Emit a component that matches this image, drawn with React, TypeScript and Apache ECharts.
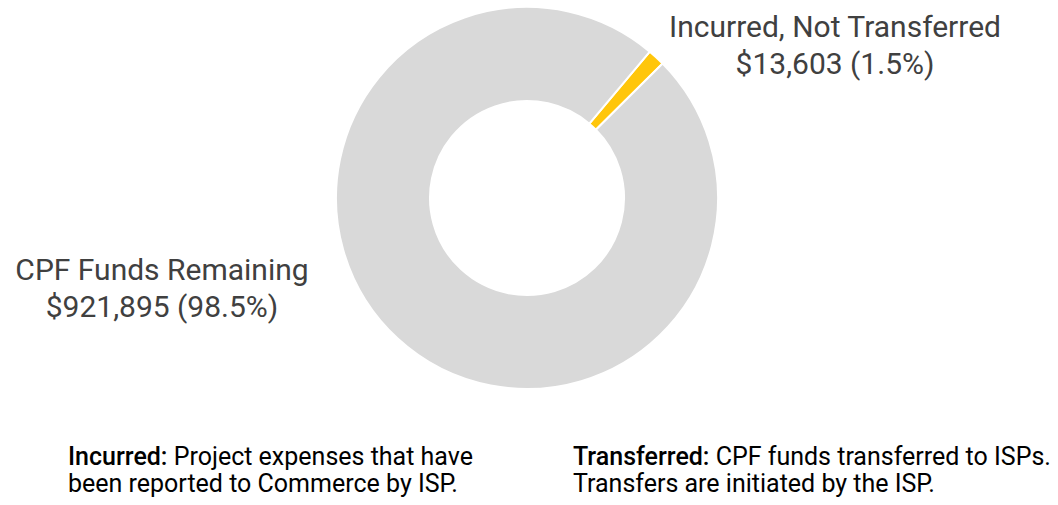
import React, { useEffect, useRef } from "react";
import * as echarts from "echarts";

const categories = ["Incurred, Not Transferred", "CPF Funds Remaining"];
const values = [13603, 921895];
const sliceColors = ["#FFC60B", "#D9D9D9"];
const noteTitles = ["Incurred:", "Transferred:"];
const noteLines = [
  [" Project expenses that have", "been reported to Commerce by ISP."],
  [" CPF funds transferred to ISPs.", "Transfers are initiated by the ISP."],
];

const FONT = "Roboto, 'Noto Sans', sans-serif";

export default function App() {
  const ref = useRef<HTMLDivElement>(null);
  useEffect(() => {
    document.body.style.margin = "0";
    const chart = echarts.init(ref.current!, null, { renderer: "svg" });
    const labelPos = [
      { x: 835, y: 45 },
      { x: 162, y: 288 },
    ];
    const noteX = [68, 573];
    chart.setOption({
      animation: false,
      backgroundColor: "#ffffff",
      series: [
        {
          type: "pie",
          center: [527, 198],
          radius: [97, 191],
          startAngle: 50,
          clockwise: true,
          percentPrecision: 1,
          avoidLabelOverlap: false,
          itemStyle: { borderColor: "#ffffff", borderWidth: 2 },
          emphasis: { disabled: true },
          labelLine: { show: false },
          label: {
            show: true,
            position: "outside",
            fontFamily: FONT,
            fontSize: 30,
            lineHeight: 37,
            color: "#404040",
            align: "center",
            formatter: (p: any) =>
              `${p.name}\n$${(p.value as number).toLocaleString("en-US")} (${p.percent.toFixed(1)}%)`,
          },
          labelLayout: (p: any) => ({
            x: labelPos[p.dataIndex].x,
            y: labelPos[p.dataIndex].y,
            align: "center",
            verticalAlign: "middle",
          }),
          data: categories.map((c, i) => ({
            name: c,
            value: values[i],
            itemStyle: { color: sliceColors[i] },
          })),
        },
      ],
      graphic: noteTitles.map((t, i) => ({
        type: "text",
        left: noteX[i],
        top: 444,
        style: {
          text: `{b|${t}}{r|${noteLines[i][0]}}\n{r|${noteLines[i][1]}}`,
          rich: {
            b: {
              fontFamily: FONT,
              fontSize: 25,
              fontWeight: 500,
              color: "#505050",
              lineHeight: 27,
            },
            r: {
              fontFamily: FONT,
              fontSize: 25,
              color: "#707070",
              lineHeight: 27,
            },
          },
        },
      })),
    });
    return () => chart.dispose();
  }, []);
  return <div ref={ref} style={{ width: 1058, height: 505 }} />;
}
